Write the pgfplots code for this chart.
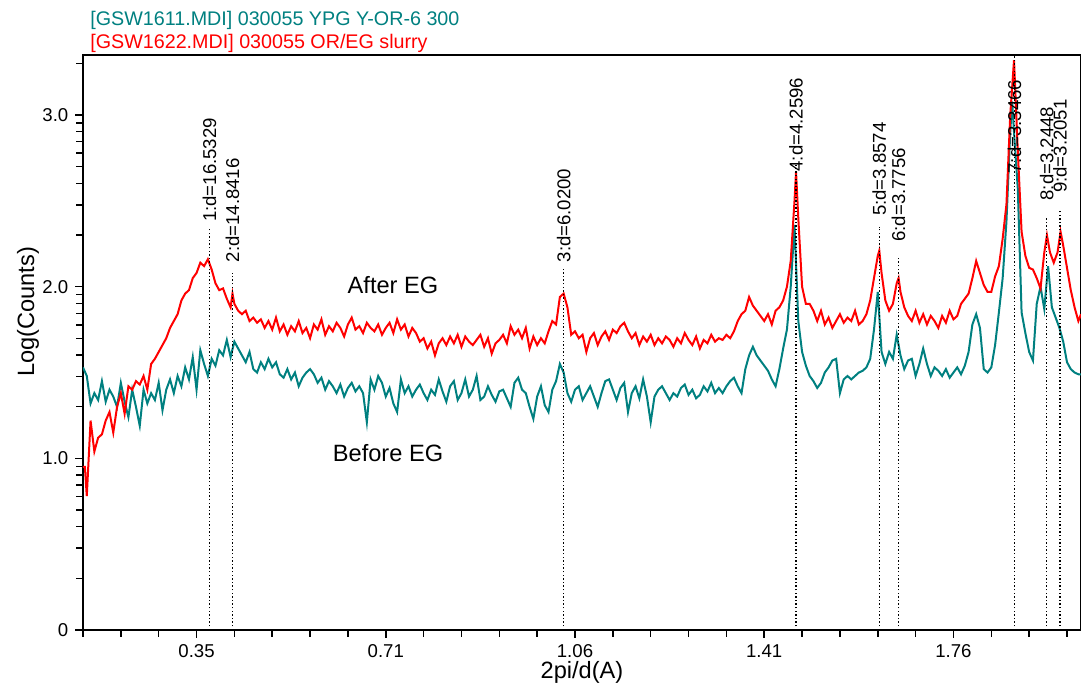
\documentclass[border=0pt]{standalone}
\usepackage{pgfplots}
\usepackage{pgfplotstable}
\pgfplotsset{compat=1.18}
\usepackage{fontspec}
\setmainfont{Liberation Sans}
\definecolor{tealc}{RGB}{0,128,128}
\definecolor{redc}{RGB}{255,0,0}

\pgfplotstableread{
t v
2.0 0.95
2.05 0.95
2.1 0.78
2.2 1.22
2.3 1.04
2.4 1.12
2.5 1.14
2.6 1.22
2.7 1.27
2.8 1.15
2.9 1.30
3.0 1.38
3.1 1.26
3.2 1.42
3.3 1.40
3.4 1.45
3.5 1.43
3.6 1.48
3.7 1.40
3.8 1.55
3.9 1.58
4.0 1.62
4.1 1.66
4.2 1.70
4.3 1.76
4.4 1.80
4.5 1.84
4.6 1.92
4.7 1.96
4.8 1.98
4.9 2.05
5.0 2.08
5.1 2.14
5.2 2.12
5.3 2.16
5.4 2.10
5.5 2.02
5.6 1.98
5.7 1.99
5.8 1.93
5.9 1.88
5.95 1.96
6.0 1.90
6.1 1.86
6.2 1.84
6.3 1.86
6.4 1.80
6.5 1.82
6.6 1.79
6.7 1.81
6.8 1.76
6.9 1.80
7.0 1.75
7.1 1.82
7.2 1.74
7.3 1.78
7.4 1.72
7.5 1.77
7.6 1.74
7.7 1.80
7.8 1.73
7.9 1.76
8.0 1.70
8.1 1.78
8.2 1.75
8.3 1.81
8.4 1.72
8.5 1.77
8.6 1.74
8.7 1.79
8.8 1.76
8.9 1.71
9.0 1.78
9.1 1.82
9.2 1.75
9.3 1.77
9.4 1.73
9.5 1.79
9.6 1.76
9.7 1.74
9.8 1.78
9.9 1.72
10.0 1.76
10.1 1.79
10.2 1.73
10.3 1.81
10.4 1.75
10.5 1.78
10.6 1.71
10.7 1.76
10.8 1.73
10.9 1.68
11.0 1.70
11.1 1.64
11.2 1.68
11.3 1.60
11.4 1.67
11.5 1.70
11.6 1.66
11.7 1.71
11.8 1.67
11.9 1.72
12.0 1.65
12.1 1.71
12.2 1.68
12.3 1.66
12.4 1.69
12.5 1.72
12.6 1.65
12.7 1.70
12.8 1.61
12.9 1.67
13.0 1.69
13.1 1.72
13.2 1.67
13.3 1.77
13.4 1.72
13.5 1.75
13.6 1.70
13.7 1.76
13.8 1.64
13.9 1.71
14.0 1.66
14.1 1.70
14.2 1.67
14.3 1.74
14.4 1.80
14.5 1.78
14.6 1.94
14.7 1.96
14.8 1.88
14.9 1.72
15.0 1.74
15.1 1.70
15.2 1.72
15.3 1.62
15.4 1.70
15.5 1.73
15.6 1.66
15.7 1.71
15.8 1.74
15.9 1.69
16.0 1.75
16.1 1.73
16.2 1.77
16.3 1.79
16.4 1.74
16.5 1.70
16.6 1.73
16.7 1.66
16.8 1.71
16.9 1.68
17.0 1.72
17.1 1.66
17.2 1.70
17.3 1.67
17.4 1.71
17.5 1.69
17.6 1.65
17.7 1.70
17.8 1.67
17.9 1.73
18.0 1.69
18.1 1.66
18.2 1.71
18.3 1.64
18.4 1.69
18.5 1.67
18.6 1.72
18.7 1.68
18.8 1.70
18.9 1.69
19.0 1.72
19.1 1.70
19.2 1.74
19.3 1.80
19.4 1.84
19.5 1.86
19.6 1.94
19.7 1.89
19.8 1.86
19.9 1.83
20.0 1.80
20.1 1.84
20.2 1.78
20.3 1.86
20.4 1.88
20.5 1.92
20.6 2.00
20.7 2.15
20.8 2.50
20.84 2.67
20.9 2.40
21.0 2.00
21.1 1.90
21.2 1.90
21.3 1.86
21.4 1.80
21.5 1.86
21.6 1.78
21.7 1.82
21.8 1.76
21.9 1.80
22.0 1.84
22.1 1.79
22.2 1.82
22.3 1.80
22.4 1.86
22.5 1.78
22.6 1.80
22.7 1.84
22.8 1.92
22.9 2.05
23.0 2.18
23.04 2.21
23.1 2.08
23.2 1.92
23.3 1.86
23.4 1.90
23.5 2.02
23.55 2.05
23.6 1.97
23.7 1.88
23.8 1.83
23.9 1.80
24.0 1.86
24.1 1.79
24.2 1.84
24.3 1.78
24.4 1.83
24.5 1.80
24.6 1.76
24.7 1.83
24.8 1.79
24.9 1.86
25.0 1.81
25.1 1.83
25.2 1.90
25.3 1.93
25.4 1.96
25.5 2.05
25.6 2.15
25.7 2.08
25.8 2.01
25.9 1.97
26.0 1.97
26.1 2.06
26.2 2.12
26.3 2.28
26.4 2.48
26.5 3.00
26.6 3.32
26.7 2.79
26.8 2.32
26.9 2.18
27.0 2.11
27.1 2.10
27.2 2.05
27.3 1.99
27.4 2.20
27.47 2.30
27.55 2.20
27.65 2.14
27.75 2.20
27.83 2.32
27.9 2.24
28.0 2.11
28.1 1.98
28.2 1.88
28.3 1.80
28.37 1.84
}\redtable

\pgfplotstableread{
t v
2.0 1.53
2.1 1.48
2.2 1.32
2.3 1.38
2.4 1.34
2.5 1.45
2.6 1.33
2.7 1.40
2.8 1.36
2.9 1.30
3.0 1.44
3.1 1.33
3.2 1.24
3.3 1.40
3.4 1.30
3.5 1.19
3.6 1.40
3.7 1.32
3.8 1.38
3.9 1.34
4.0 1.44
4.1 1.28
4.2 1.40
4.3 1.46
4.4 1.38
4.5 1.48
4.6 1.42
4.7 1.53
4.8 1.46
4.9 1.59
5.0 1.40
5.1 1.63
5.2 1.55
5.3 1.48
5.4 1.58
5.5 1.54
5.6 1.63
5.7 1.60
5.8 1.69
5.9 1.59
6.0 1.68
6.1 1.64
6.2 1.60
6.3 1.56
6.4 1.62
6.5 1.52
6.6 1.50
6.7 1.56
6.8 1.52
6.9 1.58
7.0 1.53
7.1 1.56
7.2 1.49
7.3 1.47
7.4 1.52
7.5 1.46
7.6 1.50
7.7 1.42
7.8 1.47
7.9 1.50
8.0 1.52
8.1 1.49
8.2 1.44
8.3 1.47
8.4 1.40
8.5 1.45
8.6 1.42
8.7 1.38
8.8 1.43
8.9 1.36
9.0 1.41
9.1 1.44
9.2 1.39
9.3 1.42
9.4 1.38
9.5 1.21
9.6 1.46
9.7 1.40
9.8 1.48
9.9 1.44
10.0 1.36
10.1 1.41
10.2 1.32
10.3 1.27
10.4 1.46
10.5 1.38
10.6 1.42
10.7 1.36
10.8 1.40
10.9 1.43
11.0 1.38
11.1 1.34
11.2 1.40
11.3 1.37
11.4 1.46
11.5 1.39
11.6 1.33
11.7 1.42
11.8 1.45
11.9 1.34
12.0 1.38
12.1 1.46
12.2 1.36
12.3 1.40
12.4 1.48
12.5 1.34
12.6 1.36
12.7 1.42
12.8 1.37
12.9 1.33
13.0 1.39
13.1 1.40
13.2 1.35
13.3 1.30
13.4 1.44
13.5 1.47
13.6 1.40
13.7 1.38
13.8 1.30
13.9 1.23
14.0 1.36
14.1 1.42
14.2 1.31
14.3 1.27
14.4 1.40
14.5 1.45
14.6 1.55
14.7 1.50
14.8 1.38
14.9 1.33
15.0 1.40
15.1 1.42
15.2 1.34
15.3 1.38
15.4 1.42
15.5 1.36
15.6 1.30
15.7 1.38
15.8 1.45
15.9 1.46
16.0 1.40
16.1 1.34
16.2 1.41
16.3 1.44
16.4 1.27
16.5 1.38
16.6 1.42
16.7 1.35
16.8 1.46
16.9 1.36
17.0 1.21
17.1 1.36
17.2 1.40
17.3 1.42
17.4 1.38
17.5 1.34
17.6 1.38
17.7 1.36
17.8 1.41
17.9 1.43
18.0 1.37
18.1 1.40
18.2 1.35
18.3 1.37
18.4 1.42
18.5 1.39
18.6 1.44
18.7 1.38
18.8 1.41
18.9 1.38
19.0 1.42
19.1 1.45
19.2 1.47
19.3 1.42
19.4 1.38
19.5 1.52
19.6 1.60
19.7 1.65
19.8 1.60
19.9 1.57
20.0 1.54
20.1 1.51
20.2 1.46
20.3 1.42
20.4 1.52
20.5 1.64
20.6 1.75
20.7 2.00
20.8 2.36
20.9 1.80
21.0 1.62
21.1 1.54
21.2 1.48
21.3 1.45
21.4 1.41
21.5 1.44
21.6 1.50
21.7 1.53
21.8 1.57
21.9 1.58
22.0 1.38
22.1 1.46
22.2 1.48
22.3 1.46
22.4 1.48
22.5 1.50
22.6 1.51
22.7 1.53
22.8 1.58
22.9 1.75
23.0 1.97
23.1 1.62
23.2 1.55
23.3 1.62
23.4 1.58
23.5 1.72
23.6 1.60
23.7 1.52
23.8 1.57
23.9 1.58
24.0 1.48
24.1 1.55
24.2 1.64
24.3 1.55
24.4 1.48
24.5 1.53
24.6 1.51
24.7 1.48
24.8 1.52
24.9 1.47
25.0 1.50
25.1 1.53
25.2 1.49
25.3 1.54
25.4 1.62
25.5 1.78
25.6 1.84
25.7 1.76
25.8 1.52
25.9 1.50
26.0 1.53
26.1 1.66
26.2 1.85
26.3 2.05
26.4 2.38
26.5 2.90
26.55 3.08
26.6 2.90
26.7 2.57
26.8 1.85
26.9 1.73
27.0 1.62
27.1 1.57
27.2 1.90
27.3 2.00
27.4 1.87
27.5 2.12
27.6 1.88
27.7 1.82
27.8 1.76
27.9 1.68
28.0 1.56
28.1 1.52
28.2 1.50
28.3 1.49
28.37 1.49
}\tealtable

\begin{document}
\begin{tikzpicture}
\begin{axis}[
  scale only axis,
  width=499pt, height=287.5pt,
  xmin=2, xmax=28.37, ymin=0, ymax=3.35,
  axis line style={black, line width=0.8pt},
  xtick={5,10,15,20,25},
  xticklabels={0.35,0.71,1.06,1.41,1.76},
  minor xtick={2,3,4,6,7,8,9,11,12,13,14,16,17,18,19,21,22,23,24,26,27,28},
  ytick={0,1,2,3},
  yticklabels={0,1.0,2.0,3.0},
  minor ytick={0.301,0.477,0.602,0.699,0.778,0.845,0.903,0.954,1.301,1.477,1.602,1.699,1.778,1.845,1.903,1.954,2.301,2.477,2.602,2.699,2.778,2.845,2.903,2.954,3.301},
  tick align=outside,
  tick pos=left,
  major tick length=3.8pt,
  minor tick length=3.3pt,
  tick style={black, line width=0.75pt},
  /pgf/number format/assume math mode=true,
  tick label style={font=\fontsize{9.3}{11}\selectfont},
  xlabel={2pi/d(A)},
  ylabel={Log(Counts)},
  label style={font=\fontsize{11.8}{14}\selectfont},
  xlabel style={at={(axis description cs:0.5,-0.073)}, anchor=center},
  ylabel style={at={(axis description cs:-0.0551,0.553)}, anchor=center},
  clip mode=individual,
]
\addplot[tealc, line width=1pt] table[x=t, y=v] {\tealtable};
\addplot[redc, line width=1pt] table[x=t, y=v] {\redtable};

% peak marker lines
\pgfplotsset{peakline/.style={black, line width=0.7pt, dash pattern=on 0.7pt off 1.1pt}}
\addplot[peakline] coordinates {(5.341,0) (5.341,2.34)};
\addplot[peakline] coordinates {(5.950,0) (5.950,2.08)};
\addplot[peakline] coordinates {(14.703,0) (14.703,2.11)};
\addplot[peakline] coordinates {(20.837,0) (20.837,2.71)};
\addplot[peakline] coordinates {(23.038,0) (23.038,2.35)};
\addplot[peakline] coordinates {(23.544,0) (23.544,2.18)};
\addplot[peakline] coordinates {(26.614,0) (26.614,3.35)};
\addplot[peakline] coordinates {(27.466,0) (27.466,2.41)};
\addplot[peakline] coordinates {(27.813,0) (27.813,2.44)};

\tikzset{plab/.style={rotate=90, anchor=west, inner sep=0pt, font=\fontsize{9.3}{11}\selectfont}}
\node[plab] at (axis cs:5.341,2.375) {1:d=16.5329};
\node[plab] at (axis cs:5.950,2.14) {2:d=14.8416};
\node[plab] at (axis cs:14.703,2.14) {3:d=6.0200};
\node[plab, xshift=-3.5pt] at (axis cs:20.837,2.71) {4:d=4.2596};
\node[plab] at (axis cs:23.038,2.41) {5:d=3.8574};
\node[plab] at (axis cs:23.544,2.26) {6:d=3.7756};
\node[plab, xshift=-4.5pt] at (axis cs:26.614,2.71) {7:d=3.3466};
\node[plab] at (axis cs:27.466,2.50) {8:d=3.2448};
\node[plab, xshift=1.2pt] at (axis cs:27.813,2.53) {9:d=3.2051};

\node[font=\fontsize{11.8}{14}\selectfont] at (axis cs:10.19,2.01) {After EG};
\node[font=\fontsize{11.8}{14}\selectfont] at (axis cs:10.06,1.03) {Before EG};

\node[anchor=west, inner sep=0pt, text=tealc, font=\fontsize{9.85}{11}\selectfont] at (axis description cs:0.007,1.061) {[GSW1611.MDI] 030055 YPG Y-OR-6 300};
\node[anchor=west, inner sep=0pt, text=redc, font=\fontsize{9.85}{11}\selectfont] at (axis description cs:0.007,1.021) {[GSW1622.MDI] 030055 OR/EG slurry};
\end{axis}
\pgfresetboundingbox
\path[use as bounding box] (-41.5pt,-31pt) rectangle (499pt,315pt);
\end{tikzpicture}
\end{document}
